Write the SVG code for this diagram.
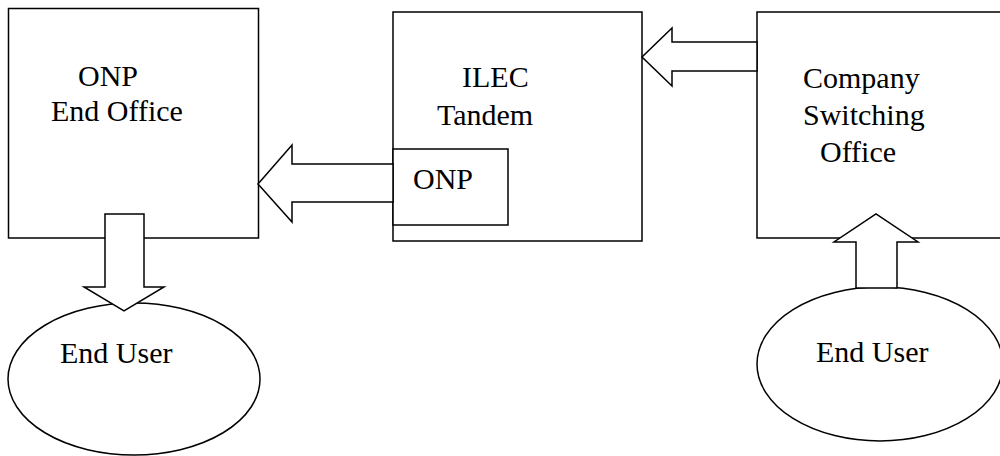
<svg xmlns="http://www.w3.org/2000/svg" width="1000" height="456" viewBox="0 0 1000 456">
<style>
.s{fill:#fff;stroke:#000;stroke-width:1.5}
text{font-family:"Liberation Serif","Times New Roman",serif;font-size:30px;fill:#000}
</style>
<rect width="1000" height="456" fill="#fff"/>
<g id="onp-end-office">
<rect class="s" x="8.5" y="8.5" width="250" height="229.5"/>
<text x="78" y="86">ONP</text>
<text x="51" y="121">End Office</text>
</g>
<g id="ilec-tandem">
<rect class="s" x="393" y="12" width="249" height="229"/>
<text x="462" y="87">ILEC</text>
<text x="437" y="125">Tandem</text>
</g>
<g id="onp-inner">
<rect class="s" x="393" y="149" width="115" height="76"/>
<text x="413" y="189">ONP</text>
</g>
<g id="company-switching-office">
<rect class="s" x="757" y="12" width="253" height="226"/>
<text x="803" y="88">Company</text>
<text x="803" y="125">Switching</text>
<text x="820" y="162">Office</text>
</g>
<g id="end-user-left">
<ellipse class="s" cx="134" cy="379" rx="126" ry="76"/>
<text x="60" y="363">End User</text>
</g>
<g id="end-user-right">
<ellipse class="s" cx="880" cy="364" rx="123" ry="77"/>
<text x="816" y="362">End User</text>
</g>
<g id="connectors">
<polygon class="s" points="393,164 292,164 292,145 258,184 292,222 292,202 393,202"/>
<polygon class="s" points="757,42 672,42 672,28 642,57 672,86 672,71 757,71"/>
<polygon class="s" points="105,214 144,214 144,287 164,287 124,311 84,287 105,287"/>
<polygon class="s" points="856,288 856,242 834,242 876,214 918,242 897,242 897,288"/>
</g>
</svg>
